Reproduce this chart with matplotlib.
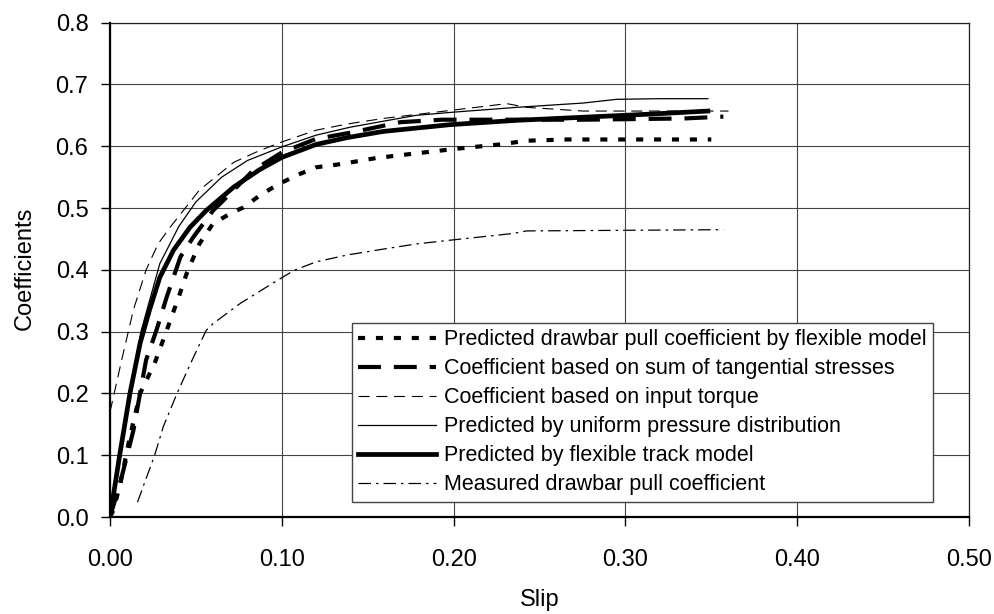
import matplotlib
matplotlib.use("Agg")
import matplotlib.pyplot as plt

plt.rcParams['font.family'] = ['Liberation Sans', 'DejaVu Sans']

# Data
slip_dp = [0.0, 0.002, 0.006, 0.0116, 0.0175, 0.026, 0.033, 0.04, 0.0446, 0.052, 0.06, 0.07, 0.0776,
           0.087, 0.097, 0.1086, 0.12, 0.134, 0.155, 0.1765, 0.2017, 0.227, 0.2425, 0.266, 0.30, 0.35]
coef_dp = [0.0, 0.011, 0.054, 0.13, 0.20, 0.249, 0.302, 0.356, 0.394, 0.442, 0.475, 0.491, 0.501,
           0.52, 0.537, 0.553, 0.566, 0.571, 0.581, 0.588, 0.596, 0.603, 0.609, 0.611, 0.611, 0.611]

slip_ts = [0.0, 0.0058, 0.0136, 0.021, 0.027, 0.033, 0.041, 0.0485, 0.06, 0.068, 0.0834, 0.10, 0.12,
           0.14, 0.169, 0.193, 0.217, 0.2755, 0.334, 0.357]
coef_ts = [0.0, 0.054, 0.14, 0.254, 0.302, 0.356, 0.421, 0.453, 0.496, 0.518, 0.561, 0.590, 0.612,
           0.622, 0.639, 0.643, 0.643, 0.643, 0.645, 0.648]

slip_tq = [0.0, 0.0068, 0.0136, 0.021, 0.028, 0.035, 0.0427, 0.052, 0.072, 0.087, 0.10, 0.12, 0.138,
           0.159, 0.198, 0.231, 0.2425, 0.2755, 0.36]
coef_tq = [0.17, 0.254, 0.335, 0.40, 0.442, 0.469, 0.496, 0.529, 0.574, 0.593, 0.607, 0.626, 0.636,
           0.645, 0.658, 0.669, 0.663, 0.657, 0.657]

slip_up = [0.0, 0.006, 0.012, 0.018, 0.029, 0.04, 0.05, 0.065, 0.08, 0.10, 0.12, 0.14, 0.178, 0.199,
           0.2367, 0.2755, 0.295, 0.32, 0.348]
coef_up = [0.0, 0.11, 0.21, 0.30, 0.41, 0.47, 0.51, 0.55, 0.577, 0.599, 0.618, 0.631, 0.65, 0.655,
           0.663, 0.67, 0.676, 0.677, 0.677]

slip_ft = [0.0, 0.0058, 0.0116, 0.0175, 0.023, 0.029, 0.037, 0.0466, 0.056, 0.072, 0.087, 0.10, 0.12,
           0.138, 0.159, 0.198, 0.2367, 0.2755, 0.314, 0.348]
coef_ft = [0.0, 0.103, 0.20, 0.281, 0.335, 0.388, 0.432, 0.469, 0.496, 0.534, 0.562, 0.582, 0.603,
           0.614, 0.624, 0.635, 0.642, 0.647, 0.652, 0.657]

slip_me = [0.016, 0.026, 0.031, 0.039, 0.046, 0.051, 0.056, 0.06, 0.076, 0.091, 0.107, 0.12, 0.138,
           0.16, 0.1785, 0.198, 0.235, 0.2425, 0.30, 0.357]
coef_me = [0.024, 0.10, 0.146, 0.20, 0.243, 0.273, 0.302, 0.313, 0.346, 0.372, 0.399, 0.413, 0.424,
           0.434, 0.442, 0.448, 0.459, 0.463, 0.464, 0.465]

labels = ["Predicted drawbar pull coefficient by flexible model",
          "Coefficient based on sum of tangential stresses",
          "Coefficient based on input torque",
          "Predicted by uniform pressure distribution",
          "Predicted by flexible track model",
          "Measured drawbar pull coefficient"]

x_ticks = [0.0, 0.1, 0.2, 0.3, 0.4, 0.5]
x_ticklabels = ["0.00", "0.10", "0.20", "0.30", "0.40", "0.50"]
y_ticks = [0.0, 0.1, 0.2, 0.3, 0.4, 0.5, 0.6, 0.7, 0.8]
y_ticklabels = ["0.0", "0.1", "0.2", "0.3", "0.4", "0.5", "0.6", "0.7", "0.8"]

W, H = 995, 614
fig = plt.figure(figsize=(W / 100, H / 100), dpi=100)
ax = fig.add_axes([110 / W, 1 - 517 / H, 859 / W, 494.3 / H])

ax.plot(slip_dp, coef_dp, color='black', lw=3.0, linestyle=(0, (1.7, 2.6)), label=labels[0])
ax.plot(slip_ts, coef_ts, color='black', lw=3.0, linestyle=(0, (5.5, 3.1)), label=labels[1])
ax.plot(slip_tq, coef_tq, color='black', lw=0.8, linestyle=(0, (10, 6)), label=labels[2])
ax.plot(slip_up, coef_up, color='black', lw=0.9, linestyle='-', label=labels[3])
ax.plot(slip_ft, coef_ft, color='black', lw=3.4, linestyle='-', label=labels[4])
ax.plot(slip_me, coef_me, color='black', lw=0.9, linestyle=(0, (10, 4, 2, 4)), label=labels[5])

ax.set_xlim(0, 0.5)
ax.set_ylim(0, 0.8)
ax.set_xticks(x_ticks)
ax.set_xticklabels(x_ticklabels)
ax.set_yticks(y_ticks)
ax.set_yticklabels(y_ticklabels)
ax.grid(True, color='#444444', lw=0.8)
ax.set_axisbelow(True)
for s in ['top', 'right']:
    ax.spines[s].set_color('#222222')
    ax.spines[s].set_linewidth(0.9)
for s in ['left', 'bottom']:
    ax.spines[s].set_color('black')
    ax.spines[s].set_linewidth(1.6)
ax.tick_params(direction='out', length=6.5, width=1, labelsize=17)
ax.tick_params(axis='x', pad=16.5)
ax.tick_params(axis='y', pad=9)

fig.text(539.5 / W, 1 - 600 / H, "Slip", fontsize=17, ha='center', va='center')
fig.text(25 / W, 1 - 268 / H, "Coefficients", fontsize=17, ha='center', va='center', rotation=90)

leg = ax.legend(loc='upper left', bbox_to_anchor=((352 - 110) / 859, (517 - 323) / 494.3),
                frameon=True, fancybox=False, framealpha=1, edgecolor='#444444',
                handlelength=3.6, handletextpad=0.37, borderaxespad=0, borderpad=0.3,
                labelspacing=0.37, prop={'size': 15.5})
leg.get_frame().set_linewidth(1.0)

fig.savefig("out.png", dpi=100)
